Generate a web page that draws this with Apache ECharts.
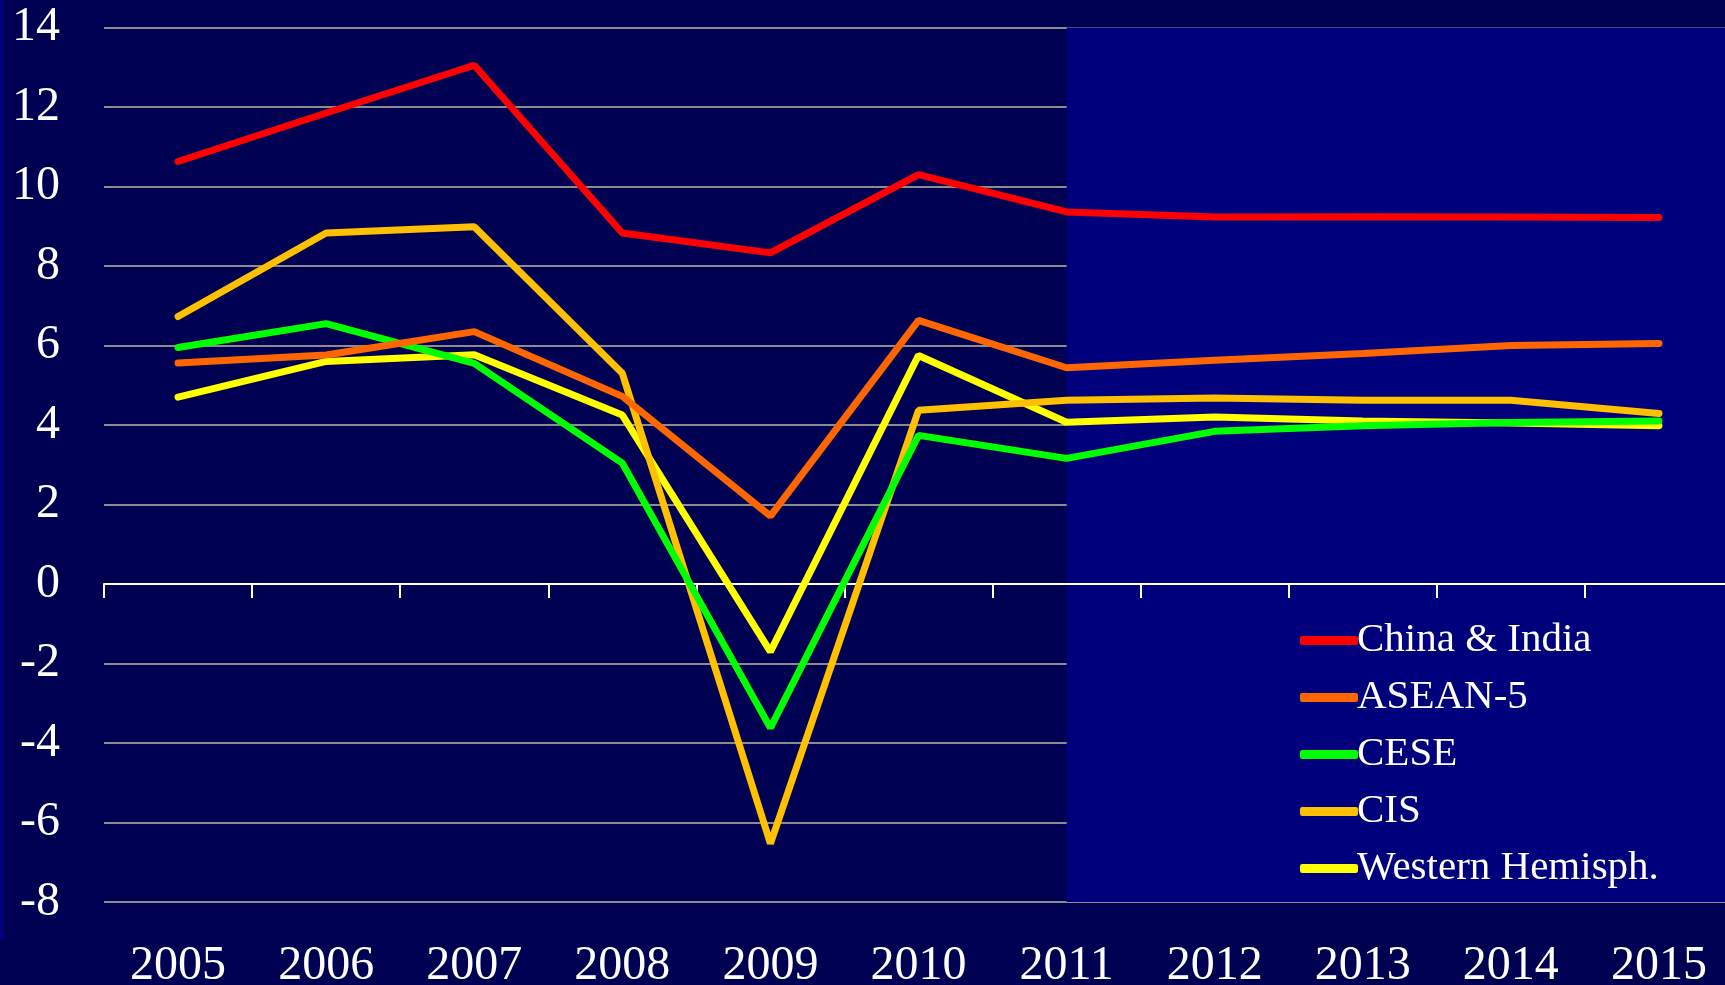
<!DOCTYPE html>
<html>
<head>
<meta charset="utf-8">
<script src="https://cdn.jsdelivr.net/npm/echarts@6/dist/echarts.min.js"></script>
<style type="text/css">
    html, body { margin: 0; padding: 0; background: #000052; }
    div.mychart { width: 1725px; height: 985px; }
</style>
</head>
<body>
<div id="main" class="mychart"></div>
<script>
var years = ['2005','2006','2007','2008','2009','2010','2011','2012','2013','2014','2015'];
var chinaIndia = [10.63, 11.85, 13.05, 8.83, 8.33, 10.3, 9.36, 9.23, 9.24, 9.23, 9.22];
var asean5 = [5.56, 5.76, 6.35, 4.72, 1.71, 6.63, 5.44, 5.63, 5.8, 6.0, 6.05];
var cese = [5.95, 6.55, 5.55, 3.04, -3.62, 3.74, 3.16, 3.84, 3.98, 4.06, 4.1];
var cis = [6.73, 8.83, 8.99, 5.3, -6.53, 4.37, 4.62, 4.68, 4.62, 4.62, 4.29];
var westHem = [4.7, 5.6, 5.77, 4.25, -1.7, 5.75, 4.07, 4.2, 4.1, 4.05, 3.98];
var forecastStart = '2011';

var names = ['China & India', 'ASEAN-5', 'CESE', 'CIS', 'Western Hemisph.'];
var colors = ['#ff0000', '#ff6600', '#00ff00', '#ffc000', '#ffff00'];
var values = [chinaIndia, asean5, cese, cis, westHem];

var font = 'Liberation Serif';
var myChart = echarts.init(document.getElementById('main'));

var series = [];
for (var i = 0; i < names.length; i++) {
    series.push({
        name: names[i],
        type: 'line',
        data: values[i],
        symbol: 'none',
        z: 10 - i,
        lineStyle: { color: colors[i], width: 7, cap: 'round' },
        itemStyle: { color: colors[i] }
    });
}
// shaded projection period
series[0].markArea = {
    silent: true,
    z: 0,
    itemStyle: { color: '#00007d' },
    data: [[{ xAxis: forecastStart }, {}]]
};

var option = {
    backgroundColor: '#000052',
    animation: false,
    graphic: [{
        type: 'rect',
        shape: { x: 0, y: 0, width: 4, height: 940 },
        style: { fill: '#00007d' },
        z: -1
    }],
    grid: { left: 104, right: -8, top: 27.5, bottom: 83, containLabel: false, outerBoundsMode: 'none' },
    legend: {
        orient: 'vertical',
        left: 1295,
        top: 615,
        itemWidth: 58,
        itemHeight: 9,
        itemGap: 16,
        icon: 'roundRect',
        data: names,
        textStyle: { color: '#ffffff', fontFamily: font, fontSize: 41, lineHeight: 41, padding: [0, 0, 0, -6] }
    },
    xAxis: [{
        type: 'category',
        data: years,
        boundaryGap: true,
        axisLine: { show: false, onZero: false },
        axisTick: { show: false },
        axisLabel: { color: '#ffffff', fontFamily: font, fontSize: 48, margin: 40 }
    }, {
        type: 'category',
        data: years,
        position: 'bottom',
        boundaryGap: true,
        axisLine: { show: true, onZero: true, lineStyle: { color: '#ffffff', width: 2 } },
        axisTick: { show: true, inside: false, length: 14, lineStyle: { color: '#ffffff', width: 2 } },
        axisLabel: { show: false }
    }],
    yAxis: {
        type: 'value',
        min: -8,
        max: 14,
        interval: 2,
        axisLine: { show: false },
        axisTick: { show: false },
        splitLine: { lineStyle: { color: '#8c8c8c', width: 2 } },
        axisLabel: { color: '#ffffff', fontFamily: font, fontSize: 48, margin: 44 }
    },
    series: series
};
myChart.setOption(option);
</script>
</body>
</html>
